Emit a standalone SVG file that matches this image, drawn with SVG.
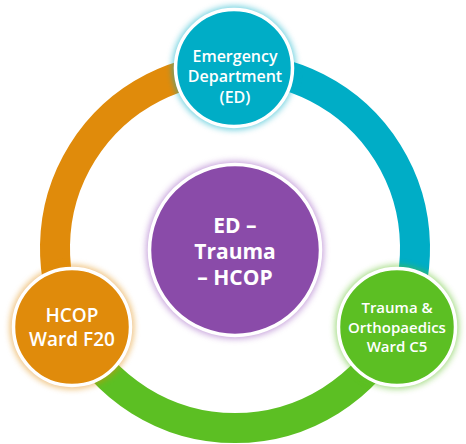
<svg xmlns="http://www.w3.org/2000/svg" width="466" height="444" viewBox="0 0 466 444">
<defs>
<filter id="glow" x="-30%" y="-30%" width="160%" height="160%"><feGaussianBlur stdDeviation="3"/></filter>
<style>
.ring{fill:none;stroke-width:30}
.node{stroke:#fff;stroke-width:3.5}
.halo{opacity:0.55;filter:url(#glow)}
text{font-family:"Open Sans","Noto Sans",sans-serif;fill:#fff;text-anchor:middle}
.lbl{font-weight:600}
.ctr{font-weight:700;font-size:21px}
</style>
</defs>
<rect width="466" height="444" fill="#fff"/>
<g id="connectors">
<path class="ring" stroke="#00adc6" d="M235,68 A180,180 0 0 1 396.8,326.9"/>
<path class="ring" stroke="#5cbf23" d="M396.8,326.9 A180,180 0 0 1 73.2,326.9"/>
<path class="ring" stroke="#e08b0b" d="M73.2,326.9 A180,180 0 0 1 235,68"/>
</g>
<g id="center">
<circle class="halo" cx="235" cy="250" r="89" fill="#9b5cc0"/>
<circle class="node" cx="235" cy="250" r="85.5" fill="#8a4ba9"/>
<text class="ctr" x="235" y="233">ED –</text>
<text class="ctr" x="235" y="259">Trauma</text>
<text class="ctr" x="235" y="285">– HCOP</text>
</g>
<g id="ed">
<circle class="halo" cx="234" cy="68" r="62" fill="#00adc6"/>
<circle class="node" cx="234" cy="68" r="58.5" fill="#00adc6"/>
<text class="lbl" font-size="16" x="235" y="62">Emergency</text>
<text class="lbl" font-size="16" x="235" y="82">Department</text>
<text class="lbl" font-size="16" x="235" y="103">(ED)</text>
</g>
<g id="hcop">
<circle class="halo" cx="72" cy="327" r="62" fill="#e08b0b"/>
<circle class="node" cx="72" cy="327" r="58.5" fill="#e08b0b"/>
<text class="lbl" font-size="19" x="72" y="322">HCOP</text>
<text class="lbl" font-size="19" x="72" y="346">Ward F20</text>
</g>
<g id="trauma">
<circle class="halo" cx="397" cy="327" r="62" fill="#5cbf23"/>
<circle class="node" cx="397" cy="327" r="58.5" fill="#5cbf23"/>
<text class="lbl" font-size="15" x="397" y="313">Trauma &amp;</text>
<text class="lbl" font-size="15" x="397" y="333">Orthopaedics</text>
<text class="lbl" font-size="15" x="397" y="352">Ward C5</text>
</g>
</svg>
